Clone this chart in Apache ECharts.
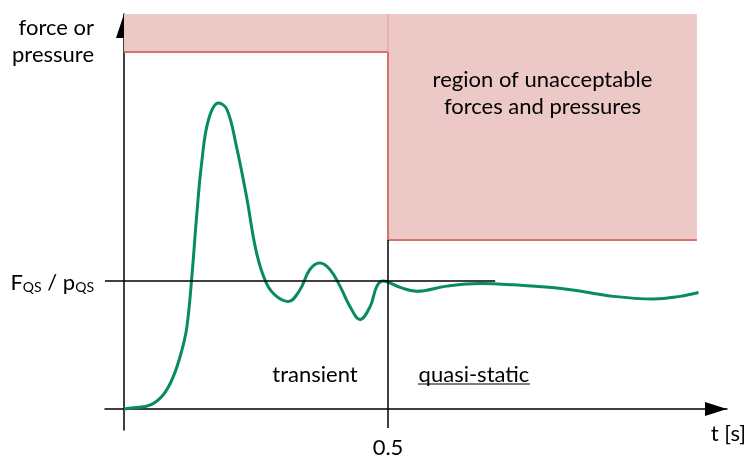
<!DOCTYPE html>
<html>
<head>
<meta charset="utf-8">
<title>force or pressure</title>
<script src="https://cdn.jsdelivr.net/npm/echarts@6/dist/echarts.min.js"></script>
<style>
html,body{margin:0;padding:0;background:#fff;}
#chart{width:748px;height:460px;}
</style>
</head>
<body>
<div id="chart"></div>
<script>
// time [s] and force (relative to F_QS)
var tValues = [0, 0.018, 0.049, 0.074, 0.093, 0.109, 0.119, 0.128, 0.138, 0.147, 0.160, 0.179, 0.195, 0.213, 0.232, 0.251, 0.270, 0.289, 0.311, 0.333,
	0.352, 0.371, 0.390, 0.409, 0.428, 0.447, 0.466, 0.479, 0.491, 0.501, 0.523, 0.554, 0.611, 0.674, 0.737, 0.832, 0.927, 1.003, 1.053, 1.088];
var forceValues = [0, 0.01, 0.03, 0.11, 0.25, 0.45, 0.64, 1.01, 1.53, 1.92, 2.26, 2.39, 2.34, 2.05, 1.66, 1.22, 0.98, 0.88, 0.84, 0.93,
	1.09, 1.14, 1.09, 0.96, 0.80, 0.70, 0.80, 0.96, 1.00, 0.99, 0.95, 0.92, 0.96, 0.98, 0.97, 0.94, 0.88, 0.86, 0.88, 0.91];

var tTransientEnd = 0.5;     // end of transient phase
var fqsLevel = 1;            // quasi-static force level
var limitTransient = 2.79;   // limit during transient phase
var limitQuasi = 1.32;       // limit during quasi-static phase
var tRegionEnd = 1.085;
var fqsLineEnd = 0.703;

// axis ranges
var xMin = -0.036, xMax = 1.142;
var yMin = -0.164, yMax = 3.086;
var xTickLabels = [0.5];
var yTickLabels = [1];

var curveData = [];
for (var i = 0; i < tValues.length; i++) {
	curveData.push([tValues[i], forceValues[i]]);
}

var font = 'Lato';
var pink = '#ecc9c7';
var red = '#d8726b';
var green = '#088c5c';

var myChart = echarts.init(document.getElementById('chart'));
var option = {
	animation: false,
	textStyle: {fontFamily: font},
	grid: {left: 105, right: 21, top: 14, bottom: 30, containLabel: false, outerBoundsMode: 'none'},
	xAxis: {
		type: 'value',
		min: xMin,
		max: xMax,
		splitLine: {show: false},
		axisTick: {show: false},
		axisLine: {
			onZero: true,
			symbol: ['none', 'triangle'],
			symbolSize: [14, 22],
			symbolOffset: [0, -11],
			lineStyle: {color: '#000', width: 1.5}
		},
		axisLabel: {
			customValues: xTickLabels,
			margin: 7,
			fontSize: 22,
			color: '#000',
			fontFamily: font
		}
	},
	yAxis: {
		type: 'value',
		min: yMin,
		max: yMax,
		splitLine: {show: false},
		axisTick: {show: false},
		axisLine: {
			onZero: true,
			symbol: ['none', 'triangle'],
			symbolSize: [16, 24],
			symbolOffset: [0, -12],
			lineStyle: {color: '#000', width: 1.5}
		},
		axisLabel: {
			customValues: yTickLabels,
			margin: 11,
			color: '#000',
			fontFamily: font,
			formatter: function () {
				return '{b|F}{s|QS}{b| / p}{s|QS}';
			},
			rich: {
				b: {fontSize: 22, fontFamily: font, color: '#000', verticalAlign: 'bottom', lineHeight: 26},
				s: {fontSize: 14, fontFamily: font, color: '#000', verticalAlign: 'bottom', lineHeight: 18}
			}
		}
	},
	graphic: [
		{type: 'text', x: 94, y: 14, style: {text: 'force or\npressure', font: '22px Lato', fill: '#000', textAlign: 'right', textVerticalAlign: 'top', lineHeight: 27}},
		{type: 'text', x: 315, y: 375, style: {text: 'transient', font: '22px Lato', fill: '#000', textAlign: 'center', textVerticalAlign: 'middle'}},
		{type: 'text', x: 474, y: 375, style: {text: 'quasi-static', font: '22px Lato', fill: '#000', textAlign: 'center', textVerticalAlign: 'middle'}},
		{type: 'line', shape: {x1: 418, y1: 384, x2: 530, y2: 384}, style: {stroke: '#000', lineWidth: 1}},
		{type: 'text', x: 746, y: 434, style: {text: 't [s]', font: '22px Lato', fill: '#000', textAlign: 'right', textVerticalAlign: 'middle'}}
	],
	series: [
		{
			name: 'limits',
			type: 'line',
			data: [],
			z: 1,
			markArea: {
				silent: true,
				itemStyle: {color: pink},
				label: {show: false},
				data: [
					[{coord: [0, limitTransient]}, {coord: [tTransientEnd, yMax]}],
					[{
						coord: [tTransientEnd, limitQuasi],
						label: {
							show: true,
							position: 'insideTop',
							distance: 52,
							formatter: 'region of unacceptable\nforces and pressures',
							fontSize: 22,
							lineHeight: 27,
							fontFamily: font,
							color: '#000'
						}
					}, {coord: [tRegionEnd, yMax]}]
				]
			},
			markLine: {
				silent: true,
				symbol: 'none',
				label: {show: false},
				lineStyle: {color: red, width: 2, type: 'solid'},
				data: [
					[{coord: [0, limitTransient]}, {coord: [tTransientEnd, limitTransient]}],
					[{coord: [tTransientEnd, limitQuasi]}, {coord: [tTransientEnd, limitTransient]}],
					[{coord: [tTransientEnd, limitQuasi]}, {coord: [tRegionEnd, limitQuasi]}],
					[{coord: [tTransientEnd, limitTransient]}, {coord: [tTransientEnd, yMax], lineStyle: {color: '#e2aaa6', width: 1.5}}]
				]
			}
		},
		{
			name: 'reference',
			type: 'line',
			data: [],
			z: 2,
			markLine: {
				silent: true,
				symbol: 'none',
				label: {show: false},
				lineStyle: {color: '#000', width: 1.5, type: 'solid'},
				data: [
					[{coord: [xMin, fqsLevel]}, {coord: [fqsLineEnd, fqsLevel]}],
					[{coord: [tTransientEnd, -0.148]}, {coord: [tTransientEnd, limitQuasi]}]
				]
			}
		},
		{
			name: 'force',
			type: 'line',
			z: 3,
			smooth: 0.4,
			showSymbol: false,
			lineStyle: {color: green, width: 3},
			itemStyle: {color: green},
			data: curveData
		}
	]
};
myChart.setOption(option);
</script>
</body>
</html>
